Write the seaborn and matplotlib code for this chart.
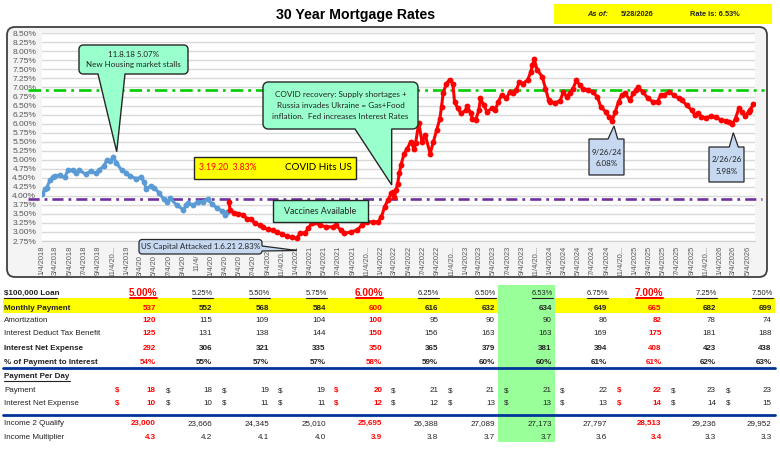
import numpy as np
import pandas as pd
import matplotlib
matplotlib.use("Agg")
import matplotlib.pyplot as plt
import matplotlib.transforms as mtransforms
from matplotlib.patches import Polygon, Rectangle, FancyBboxPatch
import seaborn as sns

# --------------------------------------------------
# Chart data
# --------------------------------------------------
blue_dates = [
    "2018-01-04", "2018-01-18", "2018-01-25", "2018-02-08", "2018-02-22",
    "2018-03-01", "2018-03-22", "2018-04-12", "2018-04-26", "2018-05-17",
    "2018-05-31", "2018-06-14", "2018-07-12", "2018-08-02", "2018-08-23",
    "2018-09-06", "2018-09-27", "2018-10-11", "2018-10-25", "2018-11-08",
    "2018-11-21", "2018-12-13", "2019-01-03", "2019-01-17", "2019-02-14",
    "2019-03-07", "2019-03-21", "2019-03-28", "2019-04-18", "2019-05-02",
    "2019-05-23", "2019-06-13", "2019-06-27", "2019-07-11", "2019-08-08",
    "2019-09-05", "2019-09-19", "2019-09-26", "2019-10-17", "2019-11-07",
    "2019-11-27", "2019-12-19", "2020-01-09", "2020-01-30", "2020-02-20",
    "2020-03-05", "2020-03-12",
]
blue_rates = [
    4.04, 4.18, 4.23, 4.44, 4.53,
    4.55, 4.57, 4.51, 4.71, 4.71,
    4.64, 4.71, 4.60, 4.69, 4.62,
    4.71, 4.82, 4.99, 4.96, 5.07,
    4.92, 4.71, 4.64, 4.55, 4.48,
    4.51, 4.39, 4.20, 4.27, 4.23,
    4.09, 3.90, 3.83, 3.93, 3.74,
    3.62, 3.74, 3.79, 3.74, 3.84,
    3.84, 3.90, 3.77, 3.65, 3.58,
    3.47, 3.56,
]

red_dates = [
    "2020-03-19", "2020-03-26", "2020-04-09", "2020-04-30", "2020-05-21",
    "2020-06-04", "2020-06-25", "2020-07-09", "2020-07-30", "2020-08-13",
    "2020-09-03", "2020-09-24", "2020-10-15", "2020-11-05", "2020-11-26",
    "2020-12-17", "2021-01-06", "2021-01-21", "2021-02-11", "2021-02-25",
    "2021-03-11", "2021-03-25", "2021-04-15", "2021-05-13", "2021-06-10",
    "2021-06-24", "2021-07-15", "2021-07-29", "2021-08-26", "2021-09-23",
    "2021-10-14", "2021-11-04", "2021-12-02", "2021-12-23", "2022-01-06",
    "2022-01-20", "2022-02-03", "2022-02-17", "2022-02-24", "2022-03-03",
    "2022-03-10", "2022-03-17", "2022-03-24", "2022-03-31", "2022-04-14",
    "2022-04-28", "2022-05-12", "2022-05-26", "2022-06-02", "2022-06-16",
    "2022-06-30", "2022-07-14", "2022-08-04", "2022-08-18", "2022-09-01",
    "2022-09-15", "2022-09-22", "2022-09-29", "2022-10-13", "2022-10-27",
    "2022-11-10", "2022-11-17", "2022-12-01", "2022-12-15", "2023-01-05",
    "2023-01-12", "2023-01-26", "2023-02-02", "2023-02-16", "2023-03-02",
    "2023-03-09", "2023-03-23", "2023-04-06", "2023-04-27", "2023-05-11",
    "2023-05-25", "2023-06-08", "2023-06-29", "2023-07-13", "2023-07-27",
    "2023-08-10", "2023-08-24", "2023-09-07", "2023-09-28", "2023-10-12",
    "2023-10-19", "2023-10-26", "2023-11-09", "2023-11-30", "2023-12-14",
    "2023-12-28", "2024-01-04", "2024-01-25", "2024-02-15", "2024-02-29",
    "2024-03-14", "2024-03-28", "2024-04-11", "2024-04-25", "2024-05-09",
    "2024-05-23", "2024-06-13", "2024-07-04", "2024-07-25", "2024-08-08",
    "2024-08-29", "2024-09-12", "2024-09-26", "2024-10-10", "2024-10-24",
    "2024-11-07", "2024-11-21", "2024-12-12", "2024-12-26", "2025-01-09",
    "2025-01-16", "2025-02-06", "2025-02-27", "2025-03-20", "2025-04-10",
    "2025-04-24", "2025-05-08", "2025-05-29", "2025-06-19", "2025-07-10",
    "2025-07-24", "2025-08-14", "2025-09-04", "2025-09-18", "2025-10-02",
    "2025-10-16", "2025-11-06", "2025-11-26", "2025-12-18", "2026-01-08",
    "2026-01-29", "2026-02-12", "2026-02-26", "2026-03-12", "2026-03-26",
    "2026-04-09", "2026-04-23", "2026-05-07", "2026-05-14", "2026-05-28",
]
red_rates = [
    3.83, 3.60, 3.53, 3.51, 3.47,
    3.37, 3.35, 3.24, 3.19, 3.14,
    3.07, 3.05, 3.00, 2.94, 2.88,
    2.85, 2.83, 2.96, 2.98, 3.10,
    3.24, 3.28, 3.19, 3.14, 3.14,
    3.19, 3.05, 2.96, 3.00, 3.05,
    3.19, 3.28, 3.28, 3.28, 3.42,
    3.70, 3.88, 4.07, 4.11, 3.97,
    4.16, 4.34, 4.62, 4.85, 5.17,
    5.31, 5.50, 5.31, 5.45, 6.01,
    5.50, 5.68, 5.17, 5.50, 5.82,
    6.14, 6.47, 6.84, 7.11, 7.22,
    7.11, 6.61, 6.42, 6.28, 6.37,
    6.48, 6.28, 6.14, 6.10, 6.37,
    6.70, 6.51, 6.33, 6.42, 6.37,
    6.61, 6.79, 6.70, 6.88, 6.84,
    6.93, 7.16, 7.11, 7.20, 7.44,
    7.62, 7.78, 7.48, 7.30, 6.97,
    6.65, 6.61, 6.58, 6.63, 6.88,
    6.74, 6.84, 6.97, 7.20, 7.07,
    6.97, 6.93, 6.88, 6.74, 6.47,
    6.33, 6.19, 6.08, 6.33, 6.61,
    6.79, 6.84, 6.65, 6.84, 6.93,
    7.00, 6.88, 6.70, 6.61, 6.61,
    6.79, 6.79, 6.88, 6.79, 6.70,
    6.65, 6.51, 6.37, 6.24, 6.30,
    6.19, 6.16, 6.21, 6.17, 6.10,
    6.08, 6.05, 5.98, 6.14, 6.42,
    6.33, 6.21, 6.33, 6.39, 6.53,
]

green_ref = 6.94
purple_ref = 3.91

y_ticks = [2.75, 3.00, 3.25, 3.50, 3.75, 4.00, 4.25, 4.50, 4.75, 5.00, 5.25,
           5.50, 5.75, 6.00, 6.25, 6.50, 6.75, 7.00, 7.25, 7.50, 7.75, 8.00,
           8.25, 8.50]

# tick labels partly hidden behind the Capitol callout in the reference
hidden_labels = {
    "2019-03-04": "3/4/20", "2019-05-04": "5/4/20", "2019-07-04": "7/4/20",
    "2019-09-04": "9/4/20", "2019-11-04": "11/4/", "2020-01-04": "1/4/20",
    "2020-03-04": "3/4/20", "2020-05-04": "5/4/20", "2020-07-04": "7/4/20",
    "2020-09-04": "9/4/202",
}

# Loan table
loan_rates = ["5.00%", "5.25%", "5.50%", "5.75%", "6.00%", "6.25%",
              "6.50%", "6.53%", "6.75%", "7.00%", "7.25%", "7.50%"]
monthly_payment = [537, 552, 568, 584, 600, 616, 632, 634, 649, 665, 682, 699]
amortization = [120, 115, 109, 104, 100, 95, 90, 90, 86, 82, 78, 74]
tax_benefit = [125, 131, 138, 144, 150, 156, 163, 163, 169, 175, 181, 188]
net_expense = [292, 306, 321, 335, 350, 365, 379, 381, 394, 408, 423, 438]
pct_interest = [54, 55, 57, 57, 58, 59, 60, 60, 61, 61, 62, 63]
pay_per_day = [18, 18, 19, 19, 20, 21, 21, 21, 22, 22, 23, 23]
int_per_day = [10, 10, 11, 11, 12, 12, 13, 13, 13, 14, 14, 15]
income_qualify = [23000, 23666, 24345, 25010, 25695, 26388, 27089, 27173,
                  27797, 28513, 29236, 29952]
income_mult = [4.3, 4.2, 4.1, 4.0, 3.9, 3.8, 3.7, 3.7, 3.6, 3.4, 3.3, 3.3]
red_cols = [0, 4, 9]

# --------------------------------------------------
# Style
# --------------------------------------------------
sns.set_style("white")
plt.rcParams["font.family"] = ["Liberation Sans", "DejaVu Sans"]
plt.rcParams["lines.scale_dashes"] = False
CALLOUT_FONT = ["Lato", "DejaVu Sans"]
TXT = "#222222"
MINT = "#99ffcc"
LIGHT_BLUE = "#c6d9f1"

W, H = 780, 457
fig = plt.figure(figsize=(W / 100, H / 100), dpi=100)

# background canvas in pixel coordinates
bg = fig.add_axes([0, 0, 1, 1])
bg.set_xlim(0, W)
bg.set_ylim(H, 0)
bg.axis("off")

bg.text(356, 15, "30 Year Mortgage Rates", ha="center", va="center",
        fontsize=10.2, fontweight="bold", color="black")
bg.add_patch(Rectangle((554, 4), 218, 20, fc="#ffff00", ec="none"))
bg.text(587, 15, "As of:", fontsize=5.3, fontweight="bold",
        fontstyle="italic", va="center")
bg.text(621, 15, "5/28/2026", fontsize=5.3, fontweight="bold", va="center")
bg.text(690, 15, "Rate is: 6.53%", fontsize=5.3, fontweight="bold",
        va="center")

bg.add_patch(FancyBboxPatch((7, 27), 760, 250,
                            boxstyle="round,pad=0,rounding_size=8",
                            fc="#f4f4f4", ec="#404040", lw=1.3))

# --------------------------------------------------
# Table
# --------------------------------------------------
col_right = [155.7, 212.3, 269, 325.7, 382.3, 438.3, 495, 551.7, 607.3,
             661.7, 716, 771.7]
dollar_x = [115, 165.7, 221.7, 278.3, 334.3, 391, 447.7, 504, 560, 616.7,
            671, 726]

bg.add_patch(Rectangle((3, 298.3), 772, 15, fc="#ffff00", ec="none"))
bg.add_patch(Rectangle((498.3, 285), 56.7, 157.3, fc="#99ff99", ec="none"))
for yy in (367.7, 415):
    bg.plot([3, 775], [yy, yy], color="#003399", lw=2.0)

FS = 5.8
bg.text(4, 293.3, "$100,000 Loan", fontsize=FS, fontweight="bold",
        va="center", color=TXT)
bg.plot([4, 56.7], [297.6, 297.6], color=TXT, lw=0.8)
for i, lab in enumerate(loan_rates):
    if i in red_cols:
        bg.text(col_right[i] + 1, 292.5, lab, fontsize=7.2,
                fontweight="bold", color="red", ha="right", va="center")
        bg.plot([col_right[i] - 26, col_right[i] + 1], [298, 298],
                color="red", lw=1.4)
    else:
        bg.text(col_right[i] + 1, 293.3, lab, fontsize=5.4, color=TXT,
                ha="right", va="center")
        bg.plot([col_right[i] - 20, col_right[i] + 1], [297.8, 297.8],
                color=TXT, lw=0.8)

rows = [
    ("Monthly Payment", monthly_payment, 308.3, True, "{}", False),
    ("Amortization", amortization, 321, False, "{}", False),
    ("Interest Deduct Tax Benefit", tax_benefit, 333.3, False, "{}", False),
    ("Interest Net Expense", net_expense, 349, True, "{}", False),
    ("% of Payment to Interest", pct_interest, 362.3, True, "{}%", False),
    ("Payment", pay_per_day, 390.7, False, "{}", True),
    ("Interest Net Expense", int_per_day, 403.3, False, "{}", True),
    ("Income 2 Qualify", income_qualify, 423.3, False, "{:,}", False),
    ("Income Multiplier", income_mult, 437.3, False, "{:.1f}", False),
]
for label, vals, yy, bold, fmt, dollar in rows:
    bg.text(4, yy, label, fontsize=FS, va="center", color=TXT,
            fontweight="bold" if bold else "normal")
    for i, v in enumerate(vals):
        red = i in red_cols
        color = "red" if red else TXT
        weight = "bold" if (bold or red) else "normal"
        bg.text(col_right[i], yy, fmt.format(v), fontsize=FS, ha="right",
                va="center", color=color, fontweight=weight)
        if dollar:
            bg.text(dollar_x[i], yy, "$", fontsize=FS, ha="left",
                    va="center", color=color, fontweight=weight)

bg.text(4, 376.7, "Payment Per Day", fontsize=FS, fontweight="bold",
        va="center", color=TXT)
bg.plot([4, 69.7], [380.8, 380.8], color=TXT, lw=0.8)

# --------------------------------------------------
# Rate chart
# --------------------------------------------------
ax = fig.add_axes([41.7 / W, 1 - 241 / H, (755 - 41.7) / W, (241 - 33.3) / H])
ax.set_facecolor("white")

blue_df = pd.DataFrame({"date": pd.to_datetime(blue_dates), "rate": blue_rates})
red_df = pd.DataFrame({"date": pd.to_datetime(red_dates), "rate": red_rates})

ref_style = dict(transform=ax.get_yaxis_transform(), clip_on=False, lw=1.9,
                 zorder=2, solid_capstyle="butt")
ax.plot([-0.019, 1.012], [green_ref, green_ref], color="#00cc00",
        dashes=(9, 3.6, 2, 3.6), **ref_style)
ax.plot([-0.019, 1.01], [purple_ref, purple_ref], color="#7030a0",
        dashes=(8, 3.6, 2, 3.6), **ref_style)

sns.lineplot(data=blue_df, x="date", y="rate", ax=ax, color="#5b9bd5",
             lw=2.2, marker="o", markersize=4.2, markeredgewidth=0,
             zorder=3)
sns.lineplot(data=red_df, x="date", y="rate", ax=ax, color="#ff0000",
             lw=2.2, marker="o", markersize=4.2, markeredgewidth=0,
             zorder=3)

ax.set_ylim(2.75, 8.5)
ax.set_xlim(pd.Timestamp("2018-01-03"), pd.Timestamp("2026-06-04"))
ax.set_yticks(y_ticks)
ax.set_yticklabels([f"{v:.2f}%" for v in y_ticks])

tick_dates = pd.date_range("2018-01-04", "2026-05-04",
                           freq=pd.DateOffset(months=2))
tick_labels = []
for d in tick_dates:
    key = d.strftime("%Y-%m-%d")
    if key in hidden_labels:
        tick_labels.append(hidden_labels[key])
    elif d.month == 11:
        tick_labels.append(f"{d.month}/{d.day}/20...")
    else:
        tick_labels.append(f"{d.month}/{d.day}/{d.year}")
ax.set_xticks(tick_dates)
ax.set_xticklabels(tick_labels, rotation=90)

ax.set_xlabel("")
ax.set_ylabel("")
ax.yaxis.grid(True, color="#d9d9d9", lw=1.0)
ax.xaxis.grid(False)
ax.set_axisbelow(True)
for side in ("top", "right", "left"):
    ax.spines[side].set_visible(False)
ax.spines["bottom"].set_color("#d0d0d0")
ax.spines["bottom"].set_linewidth(0.8)
ax.tick_params(axis="y", length=0, pad=4, labelsize=6, labelcolor="#595959")
ax.tick_params(axis="x", length=2.2, width=0.6, color="#bfbfbf", pad=1,
               labelsize=5.4, labelcolor="#595959")

# push the shortened labels below the Capitol callout
for d, lab in zip(tick_dates, ax.get_xticklabels()):
    key = d.strftime("%Y-%m-%d")
    if key in hidden_labels:
        shift = 4 if key == "2020-09-04" else 9.5
        lab.set_transform(lab.get_transform() + mtransforms.ScaledTranslation(
            0, -shift / 100, fig.dpi_scale_trans))

# --------------------------------------------------
# Callouts (overlay in pixel coordinates)
# --------------------------------------------------
ov = fig.add_axes([0, 0, 1, 1])
ov.set_xlim(0, W)
ov.set_ylim(H, 0)
ov.axis("off")
ov.patch.set_alpha(0)


def callout_points(x0, y0, x1, y1, r, side=None, base=None, tip=None, n=6):
    pts = []

    def arc(cx, cy, a0, a1):
        if r <= 0:
            return [(cx, cy)]
        t = np.radians(np.linspace(a0, a1, n))
        return list(zip(cx + r * np.cos(t), cy + r * np.sin(t)))

    pts += arc(x0 + r, y0 + r, 180, 270)
    if side == "top":
        pts += [(base[0], y0), tip, (base[1], y0)]
    pts += arc(x1 - r, y0 + r, 270, 360)
    if side == "right":
        pts += [(x1, base[0]), tip, (x1, base[1])]
    pts += arc(x1 - r, y1 - r, 0, 90)
    if side == "bottom":
        pts += [(base[1], y1), tip, (base[0], y1)]
    pts += arc(x0 + r, y1 - r, 90, 180)
    return pts


def add_callout(box, r, fc, side=None, base=None, tip=None, lw=1.0):
    x0, y0, x1, y1 = box
    pts = callout_points(x0, y0, x1, y1, r, side, base, tip)
    ov.add_patch(Polygon(pts, closed=True, fc=fc, ec="#262626", lw=lw,
                         joinstyle="miter"))


CF = 5.8

# housing market peak
add_callout((79, 45, 188, 74), 4, MINT, "bottom", (98, 125), (116.7, 151.7))
ov.text(133.5, 54.5, "11.8.18 5.07%", ha="center", va="center",
        fontsize=CF, family=CALLOUT_FONT, color=TXT)
ov.text(133.5, 64.8, "New Housing market stalls", ha="center", va="center",
        fontsize=CF, family=CALLOUT_FONT, color=TXT)

# COVID recovery
add_callout((263, 82, 418, 129), 5, MINT, "bottom", (355, 391.7),
            (391.7, 185))
for yy, line in zip((94.3, 105.7, 116.7),
                    ("COVID recovery: Supply shortages +",
                     "Russia invades Ukraine = Gas+Food",
                     "inflation.  Fed increases Interest Rates")):
    ov.text(340.5, yy, line, ha="center", va="center", fontsize=5.9,
            family=CALLOUT_FONT, color=TXT)

# COVID hits US
ov.add_patch(Rectangle((194, 157), 162, 22, fc="#ffff00", ec="#262626",
                       lw=1.0))
ov.text(199, 168, "3.19.20  3.83%", ha="left", va="center", fontsize=6.2,
        family=CALLOUT_FONT, color="red")
ov.text(352, 168, "COVID Hits US", ha="right", va="center", fontsize=7.1,
        family=CALLOUT_FONT, color="black")

# Vaccines
ov.add_patch(Rectangle((273, 200), 95, 22, fc=MINT, ec="#262626", lw=1.0))
ov.text(320.5, 211, "Vaccines Available", ha="center", va="center",
        fontsize=6.4, family=CALLOUT_FONT, color=TXT)

# Capitol
add_callout((139, 239.5, 262, 254), 3, LIGHT_BLUE, "right", (246, 251),
            (297, 250.5), lw=0.9)
ov.text(200.5, 246.8, "US Capital Attacked 1.6.21 2.83%", ha="center",
        va="center", fontsize=5.8, family=CALLOUT_FONT, color=TXT)

# recent lows
add_callout((589, 139, 624, 175), 0, LIGHT_BLUE, "top", (608, 617.7),
            (614, 126), lw=0.9)
ov.text(606.5, 152.5, "9/26/24", ha="center", va="center", fontsize=CF,
        family=CALLOUT_FONT, color=TXT)
ov.text(606.5, 163.3, "6.08%", ha="center", va="center", fontsize=CF,
        family=CALLOUT_FONT, color=TXT)

add_callout((709, 147, 744, 182), 0, LIGHT_BLUE, "top", (729.3, 738.3),
            (733.3, 132.7), lw=0.9)
ov.text(726.5, 159.3, "2/26/26", ha="center", va="center", fontsize=CF,
        family=CALLOUT_FONT, color=TXT)
ov.text(726.5, 171, "5.98%", ha="center", va="center", fontsize=CF,
        family=CALLOUT_FONT, color=TXT)

fig.savefig("out.png", dpi=100)
